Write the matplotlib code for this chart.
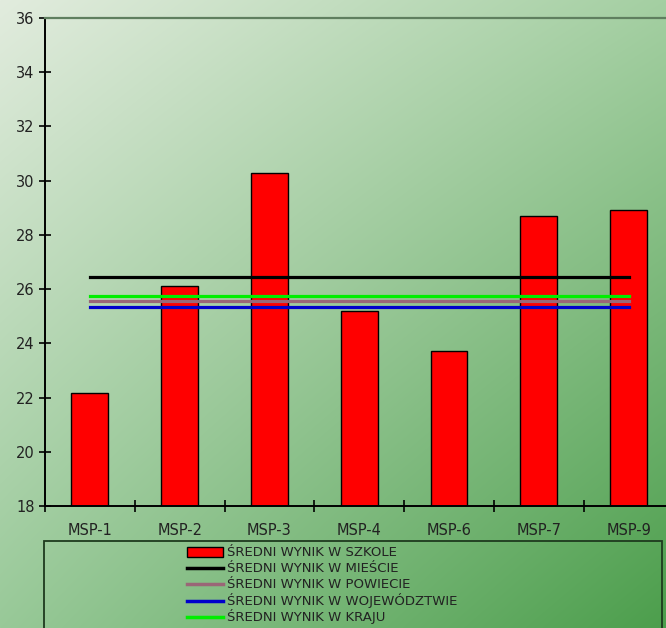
import numpy as np
import matplotlib
matplotlib.use("Agg")
import matplotlib.pyplot as plt
from matplotlib.patches import Rectangle
from matplotlib.lines import Line2D

# data
categories = ['MSP-1', 'MSP-2', 'MSP-3', 'MSP-4', 'MSP-6', 'MSP-7', 'MSP-9']
school = [22.15, 26.1, 30.3, 25.2, 23.7, 28.7, 28.9]
city = 26.45
country = 25.75
county = 25.55
voivodeship = 25.35

legend_labels = ['ŚREDNI WYNIK W SZKOLE', 'ŚREDNI WYNIK W MIEŚCIE',
                 'ŚREDNI WYNIK W POWIECIE', 'ŚREDNI WYNIK W WOJEWÓDZTWIE',
                 'ŚREDNI WYNIK W KRAJU']
line_colors = ['black', '#9a6677', '#0000cc', '#00ee00']

W, H = 666, 628
fig = plt.figure(figsize=(W / 100, H / 100), dpi=100)

# gradient background
bg = fig.add_axes([0, 0, 1, 1], zorder=-10)
tl = np.array([226, 236, 222]) / 255
tr = np.array([164, 207, 162]) / 255
bl = np.array([152, 201, 152]) / 255
br = np.array([76, 158, 76]) / 255
yy, xx = np.mgrid[0:1:H * 1j, 0:1:W * 1j]
img = (tl * ((1 - xx) * (1 - yy))[..., None] + tr * (xx * (1 - yy))[..., None]
       + bl * ((1 - xx) * yy)[..., None] + br * (xx * yy)[..., None])
bg.imshow(img, aspect='auto', extent=[0, 1, 0, 1])
bg.axis('off')

ax = fig.add_axes([45 / W, 122 / H, 628.5 / W, 488 / H])
ax.patch.set_visible(False)

x = np.arange(len(categories))
n = len(categories)
ax.bar(x, school, width=0.41, color='#ff0000', edgecolor='black', linewidth=1, zorder=2)
ax.plot(x, [city] * n, color=line_colors[0], lw=2.3, zorder=3)
ax.plot(x, [country] * n, color=line_colors[3], lw=2.3, zorder=3)
ax.plot(x, [county] * n, color=line_colors[1], lw=2.3, zorder=3)
ax.plot(x, [voivodeship] * n, color=line_colors[2], lw=2.3, zorder=3)

ax.set_xlim(-0.5, n - 0.5)
ax.set_ylim(18, 36)
ax.set_yticks(np.arange(18, 37, 2))
ax.tick_params(axis='y', direction='inout', length=9, width=1.2, labelsize=10.5,
               pad=3, labelcolor='#222222')
ax.set_xticks(x)
ax.set_xticklabels(categories)
ax.set_xticks(np.arange(-0.5, n, 1), minor=True)
ax.tick_params(axis='x', which='major', length=0, labelsize=10.5, pad=12,
               labelcolor='#222222')
ax.tick_params(axis='x', which='minor', direction='inout', length=9, width=1.2)

ax.spines['right'].set_visible(False)
ax.spines['top'].set_color('#5f7f5f')
ax.spines['top'].set_linewidth(1.6)
ax.spines['left'].set_linewidth(1.4)
ax.spines['bottom'].set_linewidth(1.4)

# legend box, cut off by the bottom edge
top = 1 - 541 / H
fig.add_artist(Rectangle((44 / W, -0.1), 618 / W, top + 0.1, transform=fig.transFigure,
                         fill=False, edgecolor='#1e3a1e', lw=1.3))
for i, lab in enumerate(legend_labels):
    yp = 552 + 16.2 * i
    yf = 1 - yp / H
    if i == 0:
        fig.add_artist(Rectangle((187 / W, 1 - (yp + 5) / H), 36 / W, 10 / H,
                                 transform=fig.transFigure, facecolor='#ff0000',
                                 edgecolor='black', lw=1))
    else:
        fig.add_artist(Line2D([187 / W, 223 / W], [yf, yf], transform=fig.transFigure,
                              color=line_colors[i - 1] if i < 4 else line_colors[3],
                              lw=2.5))
    fig.text(227 / W, yf, lab, ha='left', va='center', fontsize=9.5, color='#222222')

fig.savefig('out.png', dpi=100)
